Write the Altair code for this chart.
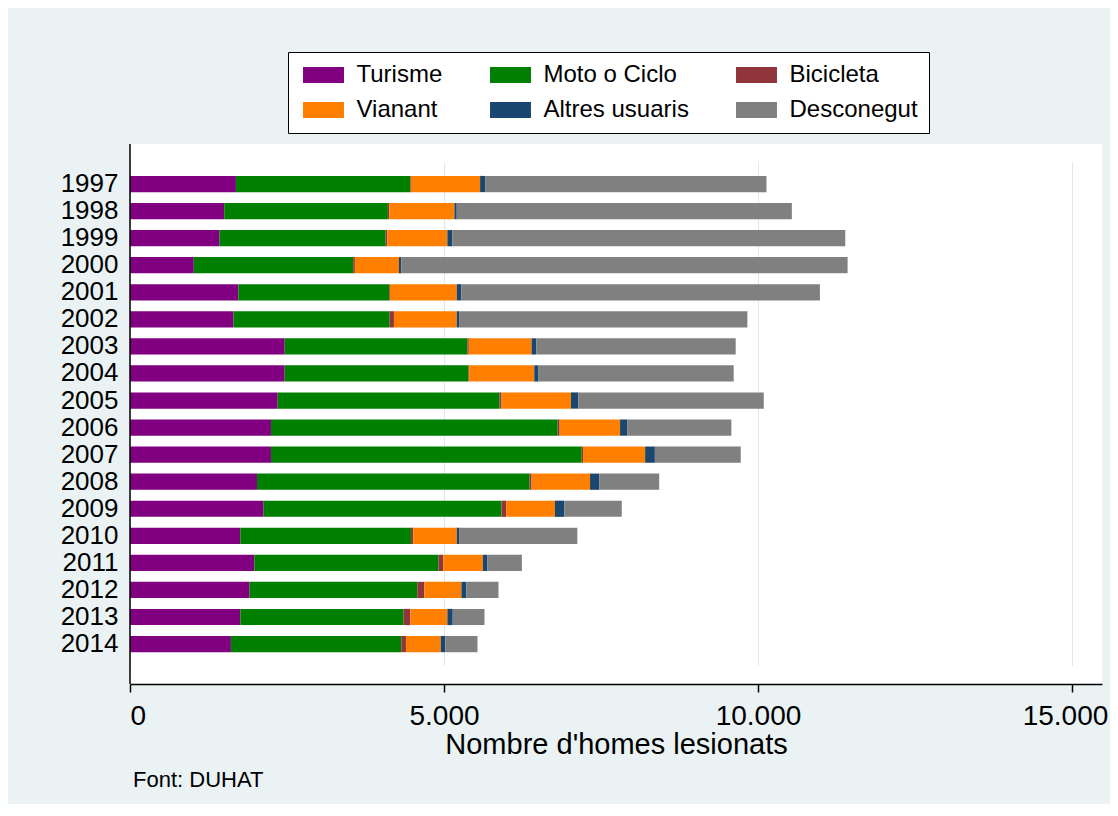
import altair as alt
import pandas as pd

years = list(range(1997, 2015))
categories = ["Turisme", "Moto o Ciclo", "Bicicleta", "Vianant", "Altres usuaris", "Desconegut"]
colors = ["#800080", "#008000", "#90353B", "#FF8000", "#1A476F", "#808080"]

turisme = [1687, 1500, 1426, 1016, 1724, 1649, 2463, 2463, 2352, 2245, 2245, 2022, 2128, 1756, 1979, 1904, 1756, 1607]
moto = [2777, 2607, 2644, 2538, 2404, 2485, 2910, 2926, 3532, 4565, 4948, 4341, 3788, 2718, 2932, 2671, 2601, 2713]
bicicleta = [10, 21, 26, 27, 12, 69, 22, 11, 32, 32, 21, 32, 74, 37, 78, 112, 107, 74]
vianant = [1101, 1038, 958, 702, 1063, 1000, 1000, 1037, 1106, 962, 989, 931, 777, 692, 629, 590, 590, 554]
altres = [80, 37, 80, 37, 74, 37, 75, 69, 118, 112, 155, 148, 149, 37, 75, 80, 85, 74]
desconegut = [4480, 5336, 6256, 7107, 5709, 4591, 3175, 3107, 2952, 1660, 1367, 953, 915, 1883, 547, 511, 506, 511]

x_ticks = [0, 5000, 10000, 15000]

series = [turisme, moto, bicicleta, vianant, altres, desconegut]
rows = []
for ci, (cat, vals) in enumerate(zip(categories, series)):
    for y, v in zip(years, vals):
        rows.append({"year": str(y), "cat": cat, "idx": ci, "value": v})
df = pd.DataFrame(rows)

# legend fills column by column: reorder so it reads row by row as in the reference
leg_order = [0, 3, 1, 4, 2, 5]
leg_domain = [categories[i] for i in leg_order]
leg_range = [colors[i] for i in leg_order]

FONT = "Liberation Sans"

x_enc = alt.X("value:Q", stack="zero",
              scale=alt.Scale(domain=[0, 15478], nice=False, zero=True),
              axis=alt.Axis(values=x_ticks, title="Nombre d'homes lesionats",
                            labelExpr="replace(format(datum.value, ','), ',', '.')",
                            labelOffset={"condition": {"test": "datum.value == 15000", "value": -7},
                                         "value": 0},
                            labelFontSize=28, labelFont=FONT, labelColor="black",
                            titleFontSize=29, titleFont=FONT, titleFontWeight="normal",
                            titleColor="black", titlePadding=0,
                            tickColor="black", tickSize=8, tickWidth=1.5,
                            domainColor="black", domainWidth=1.5, labelPadding=10,
                            grid=True, gridColor="#DCE9EB", gridWidth=1))

bars = alt.Chart(df).mark_bar().encode(
    y=alt.Y("year:O", sort=[str(y) for y in years],
            scale=alt.Scale(paddingInner=0.4, paddingOuter=0.5, range=[18.4, 521.7]),
            axis=alt.Axis(title=None, ticks=False, labelFontSize=26, labelFont=FONT,
                          labelColor="black", domain=False,
                          labelPadding=12, grid=False)),
    x=x_enc,
    color=alt.Color("cat:N",
                    scale=alt.Scale(domain=leg_domain, range=leg_range),
                    legend=alt.Legend(title=None, orient="none", legendX=158, legendY=-92,
                                      columns=3, symbolType="M-2.56,-1H2.56V1H-2.56Z",
                                      symbolSize=256, symbolOffset=12.5,
                                      symbolStrokeWidth=0, symbolOpacity=1,
                                      labelFontSize=24, labelFont=FONT, labelColor="black",
                                      labelOffset=21, labelLimit=300,
                                      columnPadding=43, rowPadding=11, padding=11,
                                      strokeColor="black", fillColor="white")),
    order=alt.Order("idx:Q", sort="ascending"),
)

# vertical axis line along the full height of the plot area, at value 0
axis_line = alt.Chart(pd.DataFrame({"value": [0]})).mark_rule(
    color="black", strokeWidth=1.5
).encode(x=alt.X("value:Q"))

chart = alt.layer(bars, axis_line).properties(
    width=972,
    height=540,
    autosize=alt.AutoSizeParams(type="none"),
    padding={"left": 122, "top": 136, "right": 8, "bottom": 120},
    title=alt.TitleParams("Font: DUHAT", orient="bottom", anchor="start", frame="group",
                          fontSize=22, font=FONT, fontWeight="normal", color="black",
                          offset=11, dx=3),
).configure(
    background="#EAF2F3",
).configure_view(
    fill="white", stroke=None,
)

chart.save("out.html", embed_options={"renderer": "svg", "actions": False})
